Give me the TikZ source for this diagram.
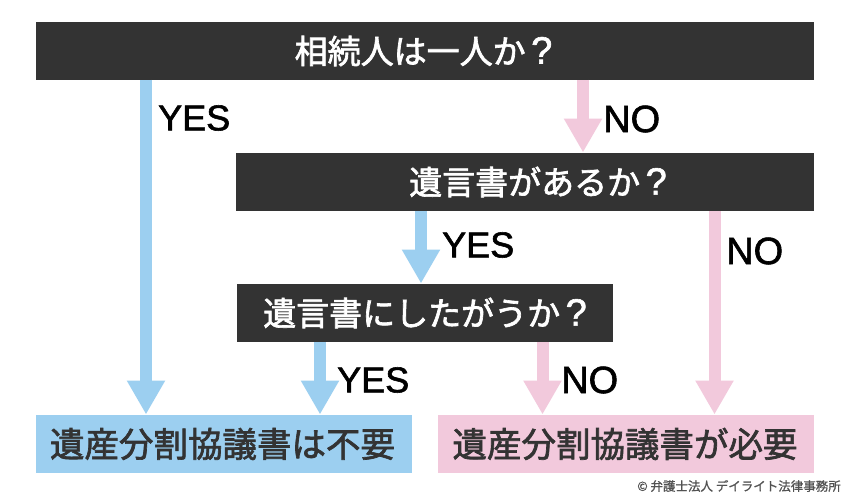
\documentclass[tikz,border=0pt]{standalone}
\usepackage{fontspec}
\usetikzlibrary{arrows.meta}
\setmainfont{Liberation Sans}[FakeBold=1.6]
\newfontfamily\cjk{Noto Sans CJK JP}[FakeBold=2]
\newfontfamily\cjksmall{Noto Sans CJK JP}[FakeBold=1]
\newcommand{\bigq}{\,{\rmfamily\fontsize{38}{38}\selectfont ?}}
\definecolor{darkbox}{HTML}{333333}
\definecolor{bluec}{HTML}{9CCFF0}
\definecolor{pinkc}{HTML}{F2C9DC}
\begin{document}
\begin{tikzpicture}[x=1pt,y=-1pt,
 box/.style={minimum height=58pt,inner sep=0pt,outer sep=0pt,anchor=north west},
 question/.style={box,fill=darkbox,text=white,font=\cjk\fontsize{33}{33}\selectfont},
 result/.style={box,minimum width=376pt,text=darkbox,font=\cjk\fontsize{34.5}{34.5}\selectfont},
 yeslab/.style={text=black,inner sep=0pt,font=\fontsize{36}{36}\selectfont,anchor=west},
 nolab/.style={text=black,inner sep=0pt,font=\fontsize{38}{38}\selectfont,anchor=west},
 arr/.style={line width=12pt,-{Triangle[length=34pt,width=36pt]},shorten >=0.5pt}]
\useasboundingbox (0,0) rectangle (850,500);
\fill[white] (0,0) rectangle (850,500);
\node[question,minimum width=778pt] (q1) at (36,22) {\hspace*{-3pt}相続人は一人か\bigq};
\node[question,minimum width=578pt] (q2) at (236,153) {\hspace*{26pt}遺言書があるか\bigq};
\node[question,minimum width=376pt] (q3) at (237,284) {遺言書にしたがうか\bigq};
\node[result,fill=bluec] (r1) at (36,415) {\hspace*{-3pt}遺産分割協議書は不要};
\node[result,fill=pinkc] (r2) at (438,415) {\hspace*{-2pt}遺産分割協議書が必要};
\draw[arr,bluec] (146,0 |- q1.south) -- (146,0 |- r1.north);
\draw[arr,pinkc] (583,0 |- q1.south) -- (583,0 |- q2.north);
\draw[arr,bluec] (421,0 |- q2.south) -- (421,0 |- q3.north);
\draw[arr,pinkc] (714.5,0 |- q2.south) -- (714.5,0 |- r2.north);
\draw[arr,bluec] (320,0 |- q3.south) -- (320,0 |- r1.north);
\draw[arr,pinkc] (542.5,0 |- q3.south) -- (542.5,0 |- r2.north);
\node[yeslab] (y1) at (158,118) {YES};
\node[nolab] (n1) at (603,119) {NO};
\node[yeslab] (y2) at (442,245) {YES};
\node[nolab] (n2) at (726,251) {NO};
\node[yeslab] (y3) at (337,380) {YES};
\node[nolab] (n3) at (561,380) {NO};
\node[inner sep=0pt,anchor=east,text=darkbox!85!white,font=\cjksmall\fontsize{12.5}{12.5}\selectfont] (c) at (841,486) {© 弁護士法人 デイライト法律事務所};
\end{tikzpicture}
\end{document}
